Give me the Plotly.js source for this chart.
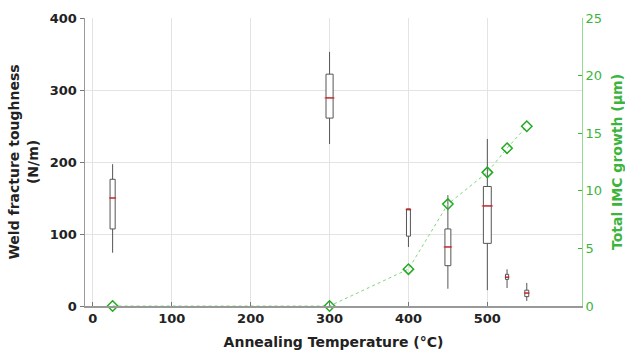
<!DOCTYPE html>
<html>
<head>
<meta charset="utf-8">
<script src="https://cdn.plot.ly/plotly-3.0.1.min.js"></script>
<style>html,body{margin:0;padding:0;background:#fff;}#chart{width:625px;height:354px;}</style>
</head>
<body>
<div id="chart"></div>
<script>
// Box-plot statistics of weld fracture toughness (N/m)
const temps      = [25, 300, 400, 450, 500, 525, 550];
const upperFence = [197, 353, 135, 154, 232, 51, 32];
const q3         = [176, 322, 135, 107, 166, 44, 22];
const medians    = [150, 289, 134, 82, 139, 40, 18];
const q1         = [107, 261, 97, 56, 87, 37, 13];
const lowerFence = [74, 225, 82, 24, 22, 25, 7];

// Total IMC growth (µm)
const imcTemps  = [25, 300, 400, 450, 500, 525, 550];
const imcGrowth = [0, 0, 3.2, 8.85, 11.6, 13.7, 15.6];

const xTicks = [0, 100, 200, 300, 400, 500];
const y1Ticks = [0, 100, 200, 300, 400];
const y2Ticks = [0, 5, 10, 15, 20, 25];

const boxWidthsData = [6.5, 9, 5, 7.5, 10, 4, 5];
const boxWidthsPx   = [5, 7, 4, 6, 8, 3.3, 4];

const green = '#3cb43c';
const font = 'DejaVu Sans, Verdana, sans-serif';

const traces = [];
temps.forEach((t, i) => {
  traces.push({
    type: 'box',
    x: [t],
    q1: [q1[i]], median: [medians[i]], q3: [q3[i]],
    lowerfence: [lowerFence[i]], upperfence: [upperFence[i]],
    width: boxWidthsData[i],
    whiskerwidth: 0,
    boxpoints: false,
    fillcolor: 'rgba(255,255,255,1)',
    line: {color: '#555', width: 1},
    xaxis: 'x', yaxis: 'y',
    showlegend: false,
    hoverinfo: 'skip'
  });
});
// red median lines
traces.push({
  type: 'scatter', mode: 'markers',
  x: temps, y: medians,
  marker: {symbol: 'line-ew', size: boxWidthsPx, color: 'red', line: {color: 'red', width: 1.3}},
  showlegend: false, hoverinfo: 'skip'
});
// IMC growth
traces.push({
  type: 'scatter', mode: 'lines+markers',
  x: imcTemps, y: imcGrowth,
  yaxis: 'y2',
  line: {color: '#7fd67f', width: 1, dash: 'dot'},
  marker: {symbol: 'diamond-open', size: 8, color: '#22aa22', line: {color: '#22aa22', width: 1.5}},
  showlegend: false, hoverinfo: 'skip', cliponaxis: false
});

const layout = {
  width: 625, height: 354,
  margin: {l: 85, r: 43, t: 18, b: 48, pad: 0},
  paper_bgcolor: '#fff', plot_bgcolor: '#fff',
  boxmode: 'overlay',
  showlegend: false,
  xaxis: {
    range: [-10, 620],
    tickvals: xTicks, ticktext: xTicks.map(String),
    ticks: 'inside', ticklen: 4, tickcolor: '#777',
    showgrid: true, gridcolor: '#e3e3e3', gridwidth: 1,
    showline: true, linecolor: '#999', linewidth: 1.5,
    zeroline: false,
    tickfont: {family: font, size: 13, color: '#222', weight: 'bold'},
    title: {text: 'Annealing Temperature (°C)', font: {family: font, size: 14, color: '#222', weight: 'bold'}, standoff: 12}
  },
  yaxis: {
    range: [0, 400],
    tickvals: y1Ticks, ticktext: y1Ticks.map(String),
    ticks: 'outside', ticklen: 4, tickcolor: '#777',
    showgrid: true, gridcolor: '#e3e3e3', gridwidth: 1,
    showline: true, linecolor: '#999', linewidth: 1.5,
    zeroline: false,
    tickfont: {family: font, size: 13, color: '#222', weight: 'bold'},
    title: {text: 'Weld fracture toughness<br>(N/m)', font: {family: font, size: 14, color: '#222', weight: 'bold'}, standoff: 8}
  },
  yaxis2: {
    range: [0, 25],
    overlaying: 'y', side: 'right',
    tickvals: y2Ticks, ticktext: y2Ticks.map(String),
    ticks: 'inside', ticklen: 4, tickcolor: green,
    showgrid: false, zeroline: false,
    showline: true, linecolor: '#8fdc8f', linewidth: 1,
    tickfont: {family: font, size: 13, color: green},
    title: {text: 'Total IMC growth (µm)', font: {family: font, size: 14, color: green, weight: 'bold'}, standoff: 12}
  }
};

Plotly.newPlot('chart', traces, layout, {staticPlot: true, displayModeBar: false});
</script>
</body>
</html>
